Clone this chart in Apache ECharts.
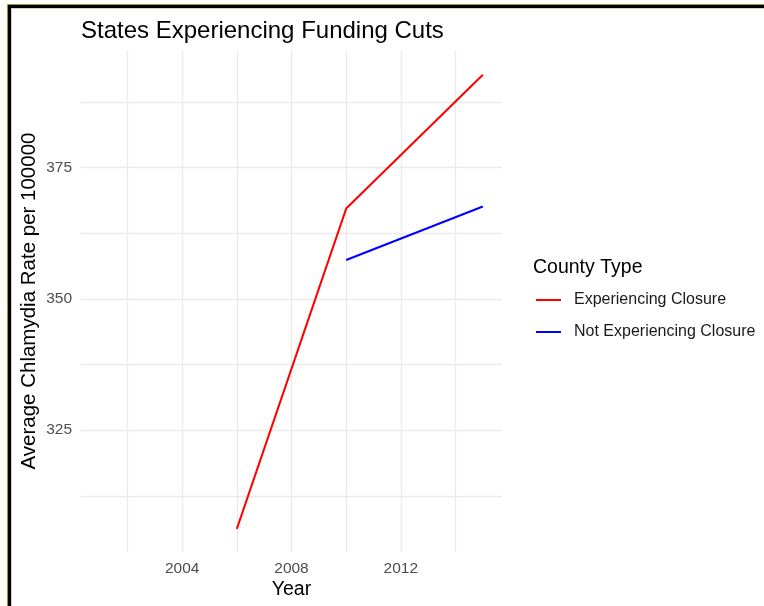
<!DOCTYPE html>
<html>
<head>
<meta charset="utf-8">
<script src="https://cdn.jsdelivr.net/npm/echarts@6/dist/echarts.min.js"></script>
<style>
  html, body { margin: 0; padding: 0; background: #ffffff; }
  #chart { width: 764px; height: 606px; }
</style>
</head>
<body>
<div id="chart"></div>
<script>
// data
var years = [2006, 2010, 2015];
var closureRates = [306.2, 367.2, 392.7];
var noClosureRates = [null, 357.4, 367.6];
var seriesNames = ['Experiencing Closure', 'Not Experiencing Closure'];

var xGridValues = [2002, 2004, 2006, 2008, 2010, 2012, 2014];
var xLabelValues = [2004, 2008, 2012];
var yGridValues = [312.5, 325, 337.5, 350, 362.5, 375, 387.5];
var yLabelValues = [325, 350, 375];

var chart = echarts.init(document.getElementById('chart'));
var font = 'Liberation Sans, Arial, Helvetica, sans-serif';

function pairs(values) {
    var out = [];
    for (var i = 0; i < years.length; i++) {
        out.push([years[i], values[i]]);
    }
    return out;
}

var option = {
    backgroundColor: '#ffffff',
    animation: false,
    title: {
        text: 'States Experiencing Funding Cuts',
        left: 76,
        top: 14,
        textStyle: { fontFamily: font, fontSize: 24, fontWeight: 'normal', color: '#000000' }
    },
    legend: {
        orient: 'vertical',
        left: 531,
        top: 287,
        icon: 'rect',
        itemWidth: 25,
        itemHeight: 2,
        itemGap: 16,
        data: seriesNames,
        textStyle: { fontFamily: font, fontSize: 16, color: '#1a1a1a', padding: [0, 0, 0, 8] }
    },
    grid: { left: 81, right: 262, top: 50, bottom: 54 },
    xAxis: {
        type: 'value',
        min: 2000.3,
        max: 2015.7,
        name: 'Year',
        nameLocation: 'middle',
        nameGap: 28,
        nameMoveOverlap: false,
        nameTextStyle: { fontFamily: font, fontSize: 19.5, color: '#000000' },
        axisLine: { show: false },
        axisTick: { show: false, customValues: xGridValues },
        axisLabel: {
            customValues: xLabelValues,
            formatter: function (v) { return String(v); },
            margin: 9,
            fontFamily: font,
            fontSize: 15.5,
            color: '#4d4d4d'
        },
        splitLine: { show: true, lineStyle: { color: '#ebebeb', width: 1.4 } }
    },
    yAxis: {
        type: 'value',
        min: 301.8,
        max: 397.4,
        name: 'Average Chlamydia Rate per 100000',
        nameLocation: 'middle',
        nameGap: 41,
        nameMoveOverlap: false,
        nameTextStyle: { fontFamily: font, fontSize: 20.5, color: '#000000' },
        axisLine: { show: false },
        axisTick: { show: false, customValues: yGridValues },
        axisLabel: {
            customValues: yLabelValues,
            margin: 9,
            fontFamily: font,
            fontSize: 15.5,
            color: '#4d4d4d'
        },
        splitLine: { show: true, lineStyle: { color: '#ebebeb', width: 1.4 } }
    },
    graphic: [
        {
            type: 'text',
            left: 533,
            top: 258,
            style: { text: 'County Type', fontFamily: font, fontSize: 19.5, fill: '#000000' }
        },
        {
            type: 'polyline',
            shape: { points: [[7.5, 606], [7.5, 4.5], [764, 4.5]] },
            style: { stroke: '#9a9a1a', lineWidth: 1, fill: null }
        },
        {
            type: 'polyline',
            shape: { points: [[9.5, 606], [9.5, 6.5], [764, 6.5]] },
            style: { stroke: '#000000', lineWidth: 3, fill: null }
        },
        {
            type: 'polyline',
            shape: { points: [[11.5, 606], [11.5, 8.5], [764, 8.5]] },
            style: { stroke: '#cfcfcf', lineWidth: 1, fill: null }
        }
    ],
    series: [
        {
            name: seriesNames[0],
            type: 'line',
            data: pairs(closureRates),
            symbol: 'none',
            connectNulls: false,
            lineStyle: { color: '#ff0000', width: 2 },
            itemStyle: { color: '#ff0000' }
        },
        {
            name: seriesNames[1],
            type: 'line',
            data: pairs(noClosureRates),
            symbol: 'none',
            connectNulls: false,
            lineStyle: { color: '#0000ff', width: 2 },
            itemStyle: { color: '#0000ff' }
        }
    ]
};

chart.setOption(option);
</script>
</body>
</html>
